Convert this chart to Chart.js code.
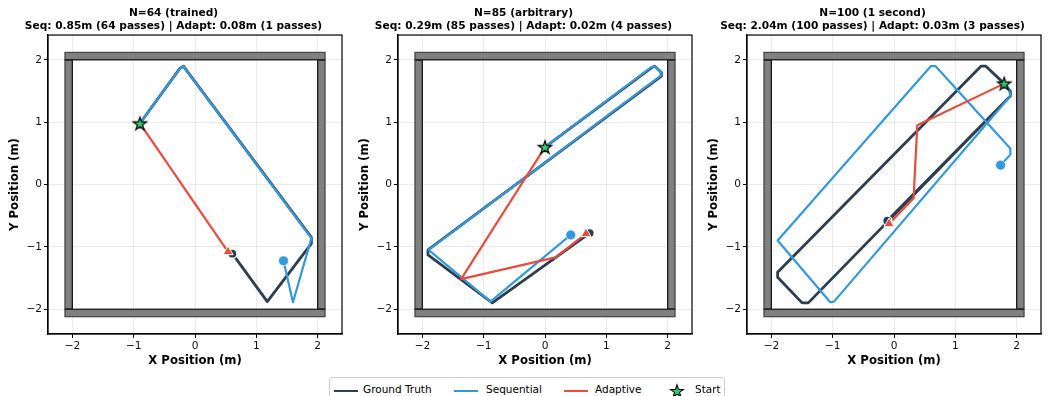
<!DOCTYPE html>
<html>
<head>
<meta charset="utf-8">
<script src="https://cdn.jsdelivr.net/npm/chart.js@4.4.1/dist/chart.umd.min.js"></script>
<style>
  html, body { margin: 0; padding: 0; background: #fff; }
  body { width: 1052px; height: 396px; position: relative; overflow: hidden;
         font-family: "DejaVu Sans", sans-serif; }
  .panel { position: absolute; top: 0; width: 350px; height: 372px; }
  #legend { position: absolute; left: 329px; top: 377px; width: 396px; height: 30px;
            border: 1px solid #cfcfcf; border-radius: 3px; background: #fff; box-sizing: border-box; }
  #legend .sw { position: absolute; top: 11.5px; width: 24px; height: 2.6px; }
  #legend .tx { position: absolute; top: 5px; font-size: 10.5px; line-height: 13px; color: #000; white-space: nowrap; }
  #legend svg { position: absolute; top: 5px; }
</style>
</head>
<body>
<canvas id="c0" class="panel" width="350" height="372" style="left:0px"></canvas>
<canvas id="c1" class="panel" width="350" height="372" style="left:350px"></canvas>
<canvas id="c2" class="panel" width="350" height="372" style="left:699px"></canvas>

<div id="legend">
  <span class="sw" style="left:4px;background:#2c3e50"></span><span class="tx" style="left:33px">Ground Truth</span>
  <span class="sw" style="left:124px;background:#3498db"></span><span class="tx" style="left:156px">Sequential</span>
  <span class="sw" style="left:234px;background:#e74c3c"></span><span class="tx" style="left:265px">Adaptive</span>
  <svg width="16" height="16" viewBox="-8 -8 16 16" style="left:339px">
    <polygon id="legendStar" fill="#2ecc71" stroke="#000" stroke-width="1.1" stroke-linejoin="miter"></polygon>
  </svg>
  <span class="tx" style="left:365px">Start</span>
</div>

<script>
// ---- panel labels ----
const panelNames  = ['N=64 (trained)', 'N=85 (arbitrary)', 'N=100 (1 second)'];
const seqError    = [0.85, 0.29, 2.04];
const seqPasses   = [64, 85, 100];
const adaptError  = [0.08, 0.02, 0.03];
const adaptPasses = [1, 4, 3];

// ---- axis ticks (metres) ----
const tickValues = [-2, -1, 0, 1, 2];
const axisMin = -2.4, axisMax = 2.4;

// ---- arena walls (metres) ----
const wallInner = 2.0;
const wallOuter = 2.13;

// ---- N=64 trajectories ----
const gt64X  = [-0.90, -0.25, -0.19, 1.90, 1.90, 1.18, 0.61];
const gt64Y  = [ 0.98,  1.86,  1.90, -0.85, -0.95, -1.88, -1.11];
const seq64X = [-0.90, -0.25, -0.19, 1.90, 1.60, 1.445];
const seq64Y = [ 0.98,  1.86,  1.90, -0.86, -1.89, -1.225];
const ada64X = [-0.90, 0.54];
const ada64Y = [ 0.98, -1.08];

// ---- N=85 trajectories ----
const gt85X  = [0.00, 1.73, 1.79, 1.90, 1.90, -1.91, -1.91, -0.86, 0.73];
const gt85Y  = [0.60, 1.87, 1.90, 1.80, 1.74, -1.05, -1.13, -1.90, -0.78];
const seq85X = [0.00, 1.73, 1.78, 1.88, 1.89, -1.90, -0.89, 0.42];
const seq85Y = [0.60, 1.88, 1.90, 1.82, 1.75, -1.05, -1.88, -0.81];
const ada85X = [0.00, -1.37, 0.17, 0.67];
const ada85Y = [0.60, -1.52, -1.17, -0.79];

// ---- N=100 trajectories ----
const gt100X  = [1.80, 1.90, 1.90, -1.40, -1.50, -1.90, -1.90, 1.42, 1.50, 1.80, 1.90, 1.90, -0.11];
const gt100Y  = [1.62, 1.50, 1.42, -1.90, -1.90, -1.49, -1.41, 1.90, 1.90, 1.62, 1.50, 1.42, -0.58];
const seq100X = [1.80, 1.88, 1.90, -0.98, -1.04, -1.90, 0.60, 0.68, 1.90, 1.90, 1.74];
const seq100Y = [1.62, 1.52, 1.42, -1.88, -1.89, -0.90, 1.90, 1.90, 0.58, 0.48, 0.31];
const ada100X = [1.80, 0.38, 0.32, -0.08];
const ada100Y = [1.62, 0.95, -0.22, -0.63];

const panels = [
  { gtX: gt64X,  gtY: gt64Y,  seqX: seq64X,  seqY: seq64Y,  adaX: ada64X,  adaY: ada64Y },
  { gtX: gt85X,  gtY: gt85Y,  seqX: seq85X,  seqY: seq85Y,  adaX: ada85X,  adaY: ada85Y },
  { gtX: gt100X, gtY: gt100Y, seqX: seq100X, seqY: seq100Y, adaX: ada100X, adaY: ada100Y },
];

// ---- colours ----
const COL_GT = '#2c3e50', COL_SEQ = '#3498db', COL_ADA = '#e74c3c', COL_START = '#2ecc71';
const FONT = '"DejaVu Sans", sans-serif';

function starPoints(R, r) {
  const pts = [];
  for (let i = 0; i < 10; i++) {
    const rad = (i % 2 === 0) ? R : r;
    const a = -Math.PI / 2 + i * Math.PI / 5;
    pts.push([rad * Math.cos(a), rad * Math.sin(a)]);
  }
  return pts;
}

// five-pointed start marker used as a Chart.js point style
function makeStarImage(R) {
  const size = Math.ceil(R * 2 + 4);
  const cv = document.createElement('canvas');
  cv.width = size; cv.height = size;
  const g = cv.getContext('2d');
  g.translate(size / 2, size / 2 + 0.6);
  g.beginPath();
  starPoints(R, R * 0.382).forEach((p, i) => i ? g.lineTo(p[0], p[1]) : g.moveTo(p[0], p[1]));
  g.closePath();
  g.fillStyle = COL_START; g.fill();
  g.lineWidth = 1.2; g.strokeStyle = '#000'; g.lineJoin = 'miter'; g.stroke();
  return cv;
}
const starImg = makeStarImage(7);
document.getElementById('legendStar').setAttribute('points',
  starPoints(6.8, 6.8 * 0.382).map(p => p[0].toFixed(2) + ',' + (p[1] + 0.6).toFixed(2)).join(' '));

const toXY = (xs, ys) => xs.map((x, i) => ({ x, y: ys[i] }));
const last = (xs, ys) => [{ x: xs[xs.length - 1], y: ys[ys.length - 1] }];
const fmtTick = v => (v < 0 ? '\u2212' + Math.abs(v) : String(v));

// walls and the top/right frame lines
const arenaPlugin = {
  id: 'arena',
  beforeDatasetsDraw(chart) {
    const { ctx, scales: { x, y } } = chart;
    const px = v => x.getPixelForValue(v), py = v => y.getPixelForValue(v);
    const rect = (x0, y0, x1, y1) => {
      const l = px(x0), r = px(x1), t = py(y1), b = py(y0);
      ctx.fillRect(l, t, r - l, b - t);
      ctx.strokeRect(l + 0.5, t + 0.5, r - l - 1, b - t - 1);
    };
    ctx.save();
    ctx.fillStyle = '#808080';
    ctx.strokeStyle = '#3d3d3d';
    ctx.lineWidth = 1;
    rect(-wallOuter, -wallInner, -wallInner, wallInner);   // left
    rect(wallInner, -wallInner, wallOuter, wallInner);     // right
    rect(-wallOuter, wallInner, wallOuter, wallOuter);     // top
    rect(-wallOuter, -wallOuter, wallOuter, -wallInner);   // bottom
    ctx.strokeStyle = '#1a1a1a';
    ctx.beginPath();
    ctx.moveTo(px(-wallOuter), py(wallInner)); ctx.lineTo(px(wallOuter), py(wallInner));
    ctx.moveTo(px(-wallOuter), py(-wallInner)); ctx.lineTo(px(wallOuter), py(-wallInner));
    ctx.moveTo(px(-wallInner), py(wallInner)); ctx.lineTo(px(-wallInner), py(-wallInner));
    ctx.moveTo(px(wallInner), py(wallInner)); ctx.lineTo(px(wallInner), py(-wallInner));
    ctx.stroke();
    ctx.restore();
  },
  afterDraw(chart) {
    const { ctx, chartArea: a } = chart;
    ctx.save();
    ctx.strokeStyle = '#000';
    ctx.lineWidth = 1.2;
    ctx.strokeRect(a.left, a.top, a.right - a.left, a.bottom - a.top);
    ctx.restore();
  }
};

function lineSet(label, data, color, width, order) {
  return { label, data, showLine: true, borderColor: color, borderWidth: width,
           pointRadius: 0, tension: 0, borderJoinStyle: 'round', borderCapStyle: 'butt', order };
}
function markerSet(label, data, style, color, radius, edge, edgeW, order) {
  return { label, data, showLine: false, pointStyle: style, pointRadius: radius,
           backgroundColor: color, borderColor: edge, borderWidth: edgeW, order };
}

function axis(titleText, isX) {
  return {
    type: 'linear', min: axisMin, max: axisMax,
    afterBuildTicks: s => { s.ticks = tickValues.map(v => ({ value: v })); },
    afterFit: s => { if (isX) s.height = 38; else s.width = 48; },
    ticks: { callback: fmtTick, font: { family: FONT, size: 10.6 }, color: '#111',
             padding: 2, maxRotation: 0, autoSkip: false },
    grid: { color: 'rgba(0,0,0,0.08)', lineWidth: 1, tickColor: '#000', tickLength: 4, tickWidth: 1 },
    border: { color: '#000', width: 1.2 },
    title: { display: true, text: titleText, color: '#000',
             font: { family: FONT, size: 11.7, weight: 'bold', lineHeight: 1.2 },
             padding: isX ? { top: 0, bottom: 4 } : { top: 8, bottom: 0 } }
  };
}

panels.forEach((p, i) => {
  new Chart(document.getElementById('c' + i), {
    type: 'scatter',
    data: {
      datasets: [
        lineSet('Ground Truth', toXY(p.gtX, p.gtY), COL_GT, 2.8, 6),
        lineSet('Sequential', toXY(p.seqX, p.seqY), COL_SEQ, 2.2, 5),
        lineSet('Adaptive', toXY(p.adaX, p.adaY), COL_ADA, 2.2, 4),
        markerSet('Ground Truth end', last(p.gtX, p.gtY), 'circle', COL_GT, 4.6, '#fff', 1.4, 3),
        markerSet('Sequential end', last(p.seqX, p.seqY), 'circle', COL_SEQ, 4.9, '#fff', 0.6, 2),
        markerSet('Adaptive end', last(p.adaX, p.adaY), 'triangle', COL_ADA, 5.8, '#fff', 1, 1),
        markerSet('Start', [{ x: p.gtX[0], y: p.gtY[0] }], starImg, COL_START, 7, '#000', 1, 0),
      ]
    },
    options: {
      responsive: false, animation: false, devicePixelRatio: 1,
      layout: { padding: { left: 0, right: 3, top: 0, bottom: 0 } },
      plugins: {
        legend: { display: false },
        tooltip: { enabled: false },
        title: {
          display: true,
          text: [panelNames[i],
                 `Seq: ${seqError[i].toFixed(2)}m (${seqPasses[i]} passes) | Adapt: ${adaptError[i].toFixed(2)}m (${adaptPasses[i]} passes)`],
          color: '#000',
          font: { family: FONT, size: 10.6, weight: 'bold', lineHeight: 1.2 },
          padding: { top: 7, bottom: 2.6 }
        }
      },
      scales: { x: axis('X Position (m)', true), y: axis('Y Position (m)', false) }
    },
    plugins: [arenaPlugin]
  });
});
</script>
</body>
</html>
